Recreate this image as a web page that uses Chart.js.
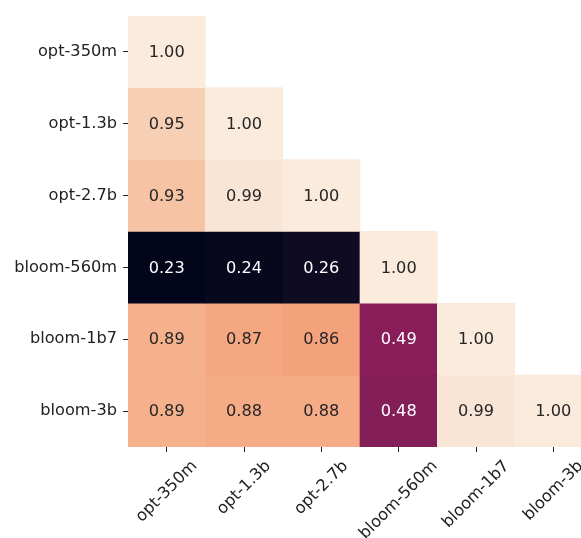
<!DOCTYPE html>
<html>
<head>
<meta charset="utf-8">
<script src="https://cdn.jsdelivr.net/npm/chart.js@4.4.1/dist/chart.umd.min.js"></script>
<style>
  html, body { margin: 0; padding: 0; background: #fff; overflow: hidden; }
  canvas { display: block; }
</style>
</head>
<body>
<canvas id="heatmap" width="600" height="538"></canvas>
<script>
const models = ['opt-350m', 'opt-1.3b', 'opt-2.7b', 'bloom-560m', 'bloom-1b7', 'bloom-3b'];

// lower triangle of the correlation matrix, one row per model
const rowOpt350 = [1.00];
const rowOpt13 = [0.95, 1.00];
const rowOpt27 = [0.93, 0.99, 1.00];
const rowBloom560 = [0.23, 0.24, 0.26, 1.00];
const rowBloom1b7 = [0.89, 0.87, 0.86, 0.49, 1.00];
const rowBloom3b = [0.89, 0.88, 0.88, 0.48, 0.99, 1.00];
const corr = [rowOpt350, rowOpt13, rowOpt27, rowBloom560, rowBloom1b7, rowBloom3b];

const vmin = 0.23, vmax = 1.00;
const FONT = '"DejaVu Sans", "Liberation Sans", sans-serif';
const SIZE = 16.2;

// approximate seaborn "rocket" colormap
const rocketStops = [
    [0.0, [3, 5, 26]], [0.1, [35, 21, 48]], [0.2, [76, 29, 75]], [0.3, [122, 31, 88]],
    [0.4, [161, 26, 91]], [0.5, [203, 27, 79]], [0.6, [232, 63, 63]], [0.7, [241, 112, 78]],
    [0.8, [243, 155, 115]], [0.9, [246, 192, 159]], [1.0, [250, 235, 221]]
];

function rocketRgb(v) {
    const t = Math.min(1, Math.max(0, (v - vmin) / (vmax - vmin)));
    for (let k = 1; k < rocketStops.length; k++) {
        const [t1, c1] = rocketStops[k];
        if (t <= t1) {
            const [t0, c0] = rocketStops[k - 1];
            const f = (t - t0) / (t1 - t0);
            return c0.map((c, n) => Math.round(c + (c1[n] - c) * f));
        }
    }
    return rocketStops[rocketStops.length - 1][1];
}

function rocket(v) {
    const c = rocketRgb(v);
    return `rgb(${c[0]},${c[1]},${c[2]})`;
}

function textColor(v) {
    const lum = rocketRgb(v).map(c => {
        c /= 255;
        return c <= 0.03928 ? c / 12.92 : Math.pow((c + 0.055) / 1.055, 2.4);
    });
    const l = 0.2126 * lum[0] + 0.7152 * lum[1] + 0.0722 * lum[2];
    return l > 0.408 ? '#262626' : '#ffffff';
}

const datasets = corr.map((vals, i) => ({
    data: models.map((_, j) => j < vals.length ? [i, i + 1] : null),
    backgroundColor: models.map((_, j) => j < vals.length ? rocket(vals[j]) : 'transparent'),
    borderWidth: 0,
    grouped: false,
    barPercentage: 1,
    categoryPercentage: 1
}));

const cellLabels = {
    id: 'cellLabels',
    afterDatasetsDraw(chart) {
        const ctx = chart.ctx;
        ctx.save();
        ctx.font = SIZE + 'px ' + FONT;
        ctx.textAlign = 'center';
        ctx.textBaseline = 'middle';
        corr.forEach((vals, i) => {
            const meta = chart.getDatasetMeta(i);
            vals.forEach((v, j) => {
                const c = meta.data[j].getCenterPoint();
                ctx.fillStyle = textColor(v);
                ctx.fillText(v.toFixed(2), c.x, c.y + 1);
            });
        });
        ctx.restore();
    },
    afterDraw(chart) {
        // x labels rotated 45deg, centred under the tick like matplotlib
        const ctx = chart.ctx;
        const xs = chart.scales.x;
        ctx.save();
        ctx.font = SIZE + 'px ' + FONT;
        ctx.fillStyle = '#222';
        ctx.textAlign = 'center';
        ctx.textBaseline = 'middle';
        models.forEach((m, i) => {
            const x = xs.getPixelForValue(i);
            const w = ctx.measureText(m).width;
            const top = chart.chartArea.bottom + 10;
            const y = top + (w + SIZE * 1.17) * Math.SQRT1_2 / 2;
            ctx.save();
            ctx.translate(x, y);
            ctx.rotate(-Math.PI / 4);
            ctx.fillText(m, 0, 0);
            ctx.restore();
        });
        ctx.restore();
    }
};

new Chart(document.getElementById('heatmap'), {
    type: 'bar',
    data: { labels: models, datasets: datasets },
    options: {
        responsive: false,
        animation: false,
        layout: { padding: { top: 15, right: 8, left: 0, bottom: 0 } },
        plugins: { legend: { display: false }, tooltip: { enabled: false } },
        scales: {
            x: {
                type: 'category',
                offset: true,
                grid: { offset: false, drawOnChartArea: false, drawTicks: true, tickLength: 5, color: '#222', lineWidth: 1 },
                border: { display: false },
                ticks: { display: false },
                afterFit: s => { s.height = 91; }
            },
            y: {
                type: 'linear',
                reverse: true,
                min: 0,
                max: 6,
                grid: { drawOnChartArea: false, drawTicks: true, tickLength: 5, color: '#222', lineWidth: 1 },
                border: { display: false },
                afterBuildTicks: s => { s.ticks = models.map((_, i) => ({ value: i + 0.5 })); },
                ticks: {
                    padding: 6,
                    color: '#222',
                    font: { family: FONT, size: SIZE },
                    callback: v => models[Math.floor(v)]
                },
                afterFit: s => { s.width = 128; }
            }
        }
    },
    plugins: [cellLabels]
});
</script>
</body>
</html>
